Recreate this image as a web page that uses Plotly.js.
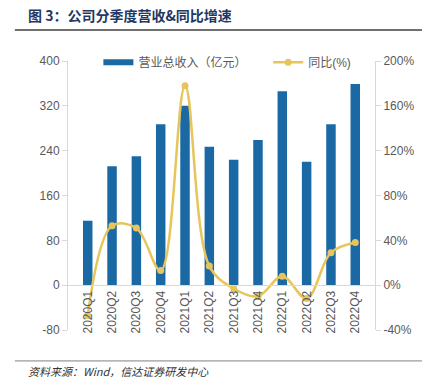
<!DOCTYPE html>
<html><head><meta charset="utf-8">
<script src="https://cdn.plot.ly/plotly-3.0.1.min.js"></script>
<style>html,body{margin:0;padding:0;background:#fff}#chart{width:424px;height:383px}</style>
</head><body><div id="chart"></div>
<script>
const categories = ["2020Q1","2020Q2","2020Q3","2020Q4","2021Q1","2021Q2","2021Q3","2021Q4","2022Q1","2022Q2","2022Q3","2022Q4"];
const revenue = [115, 212, 230, 287, 320, 247, 224, 259, 346, 220, 287, 359];
const yoy = [-27, 53, 51, 13, 178, 17, -3, -10, 8, -12, 29, 38];
const leftTicks = [-80, 0, 80, 160, 240, 320, 400];
const leftTickText = ["-80", "0", "80", "160", "240", "320", "400"];
const rightTicks = [-40, 0, 40, 80, 120, 160, 200];
const rightTickText = ["-40%", "0%", "40%", "80%", "120%", "160%", "200%"];

const font = "Liberation Sans, Arial, Noto Sans CJK SC, sans-serif";
const grey = "#595959";
const axisLine = "#D9D9D9";
const blue = "#1B69A4";
const gold = "#E6C55B";

const traces = [
  {type:"bar", x:categories, y:revenue, name:"营业总收入（亿元）",
   marker:{color:blue}, yaxis:"y", showlegend:false},
  {type:"scatter", mode:"lines", x:[null], y:[null], name:"营业总收入（亿元）",
   line:{color:blue, width:6}, yaxis:"y", showlegend:true, legend:"legend"},
  {type:"scatter", mode:"lines+markers", x:categories, y:yoy, name:"同比(%)",
   line:{color:gold, width:2.5, shape:"spline", smoothing:1},
   marker:{color:gold, size:7}, yaxis:"y2", legend:"legend2"}
];

const legendStyle = {orientation:"h", xanchor:"left", y:0.995, yanchor:"middle",
  font:{size:12, color:grey}, bgcolor:"rgba(0,0,0,0)", itemwidth:30};

const layout = {
  width:424, height:383,
  margin:{l:68, r:49, t:61, b:53},
  paper_bgcolor:"#fff", plot_bgcolor:"#fff",
  font:{family:font, size:12, color:grey},
  bargap:0.61,
  showlegend:true,
  legend:Object.assign({x:0.099}, legendStyle),
  legend2:Object.assign({x:0.652}, legendStyle),
  xaxis:{type:"category", anchor:"free", position:0.1673, tickangle:-90,
         showline:true, linecolor:axisLine, linewidth:1, ticks:"", showgrid:false,
         tickfont:{size:12, color:grey}, zeroline:false},
  yaxis:{range:[-80,400], tickvals:leftTicks, ticktext:leftTickText, showgrid:false, zeroline:false,
         showline:true, linecolor:axisLine, ticks:"outside", ticklen:5, tickcolor:axisLine,
         tickfont:{size:12, color:grey}},
  yaxis2:{range:[-40,200], tickvals:rightTicks, ticktext:rightTickText, overlaying:"y", side:"right",
          showgrid:false, zeroline:false, showline:true, linecolor:axisLine,
          ticks:"outside", ticklen:5, tickcolor:axisLine, tickfont:{size:12, color:grey}},
  shapes:[
    {type:"line", xref:"paper", yref:"paper", x0:-0.173, x1:1.153, y0:1.115, y1:1.115,
     line:{color:"#404040", width:1.5}},
    {type:"line", xref:"paper", yref:"paper", x0:-0.173, x1:1.153, y0:-0.115, y1:-0.115,
     line:{color:"#808080", width:1}}
  ],
  annotations:[
    {xref:"paper", yref:"paper", x:-0.137, y:1.171, xanchor:"left", yanchor:"middle",
     showarrow:false, text:"<b>图 3：公司分季度营收&同比增速</b>",
     font:{family:"Noto Sans CJK SC, sans-serif", size:14, color:"#1F3864"}},
    {xref:"paper", yref:"paper", x:-0.137, y:-0.152, xanchor:"left", yanchor:"middle",
     showarrow:false, text:"<i>资料来源：Wind，信达证券研发中心</i>",
     font:{family:"Noto Sans CJK SC, sans-serif", size:11, color:"#333"}}
  ]
};

Plotly.newPlot("chart", traces, layout, {displayModeBar:false, staticPlot:true});
</script></body></html>
